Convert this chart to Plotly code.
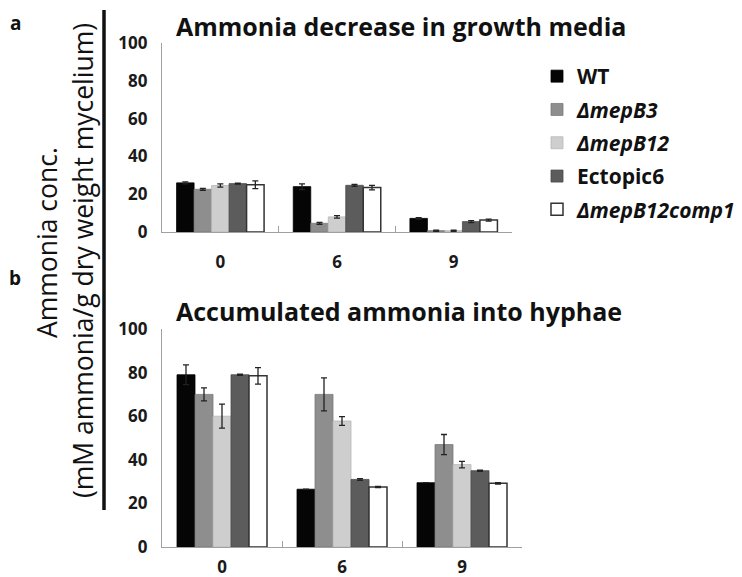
import plotly.graph_objects as go

W, H = 742, 577

days = ["0", "6", "9"]
series_names = ["WT", "<i>ΔmepB3</i>", "<i>ΔmepB12</i>", "Ectopic6", "<i>ΔmepB12comp1</i>"]

# Panel a: Ammonia decrease in growth media
a_WT = [26.0, 24.0, 7.2]
a_mepB3 = [22.6, 4.6, 0.7]
a_mepB12 = [24.6, 8.0, 0.7]
a_ect6 = [25.6, 24.7, 5.5]
a_comp1 = [25.0, 23.5, 6.3]
a_WT_err = [0.5, 1.5, 0.4]
a_mepB3_err = [0.5, 0.5, 0.3]
a_mepB12_err = [0.9, 0.7, 0.3]
a_ect6_err = [0.3, 0.5, 0.5]
a_comp1_err = [2.0, 1.2, 0.5]

# Panel b: Accumulated ammonia into hyphae
b_WT = [79.0, 26.5, 29.5]
b_mepB3 = [70.0, 70.0, 47.0]
b_mepB12 = [60.0, 57.8, 37.8]
b_ect6 = [79.0, 31.0, 35.0]
b_comp1 = [78.5, 27.5, 29.2]
b_WT_err = [4.5, 0.0, 0.0]
b_mepB3_err = [3.0, 7.6, 4.6]
b_mepB12_err = [5.5, 2.0, 1.5]
b_ect6_err = [0.3, 0.4, 0.3]
b_comp1_err = [3.8, 0.3, 0.3]

a_vals = [a_WT, a_mepB3, a_mepB12, a_ect6, a_comp1]
a_errs = [a_WT_err, a_mepB3_err, a_mepB12_err, a_ect6_err, a_comp1_err]
b_vals = [b_WT, b_mepB3, b_mepB12, b_ect6, b_comp1]
b_errs = [b_WT_err, b_mepB3_err, b_mepB12_err, b_ect6_err, b_comp1_err]

fills = ["#050505", "#8e8e8e", "#cecece", "#5c5c5c", "#ffffff"]
edges = ["#000000", "#7a7a7a", "#b8b8b8", "#4a4a4a", "#333333"]
edge_w = [0.8, 0.8, 0.8, 0.8, 1.5]

FONT = "Open Sans"
OFF = 8  # page body margin

fig = go.Figure()
for i, name in enumerate(series_names):
    for vals, errs, xa, ya, show in [(a_vals, a_errs, "x", "y", True), (b_vals, b_errs, "x2", "y2", False)]:
        fig.add_trace(go.Bar(
            x=days, y=vals[i], name=name, legendgroup=f"g{i}", showlegend=show,
            xaxis=xa, yaxis=ya,
            marker=dict(color=fills[i], line=dict(color=edges[i], width=edge_w[i])),
            error_y=dict(type="data", array=errs[i], visible=True, color="#222222",
                         thickness=1.3, width=3),
        ))

def px_x(p):
    return (p - OFF) / W

def px_y(p):
    return 1 - (p - OFF) / H

axis_common = dict(
    type="category", showline=True, linecolor="#a0a0a0", linewidth=1.2,
    ticks="inside", tickson="boundaries", ticklen=6, tickcolor="#a0a0a0",
    showgrid=False, zeroline=False,
    tickfont=dict(family=FONT, size=17, color="#1a1a1a", weight="bold"),
)
yaxis_common = dict(
    range=[0, 100], tickvals=[0, 20, 40, 60, 80, 100], showline=True,
    linecolor="#a0a0a0", linewidth=1.2, ticks="", showgrid=False, zeroline=False,
    tickfont=dict(family=FONT, size=17, color="#1a1a1a", weight="bold"),
    ticklabelstandoff=10,
)

fig.update_layout(
    width=W, height=H,
    margin=dict(l=0, r=0, t=0, b=0, autoexpand=False),
    paper_bgcolor="white", plot_bgcolor="white",
    barmode="group", bargap=0.25, bargroupgap=0,
    xaxis=dict(domain=[px_x(162), px_x(512)], anchor="y", ticklabelstandoff=14, **axis_common),
    yaxis=dict(domain=[px_y(232), px_y(43)], anchor="x", **yaxis_common),
    xaxis2=dict(domain=[px_x(162), px_x(522)], anchor="y2", ticklabelstandoff=4, **axis_common),
    yaxis2=dict(domain=[px_y(547), px_y(329)], anchor="x2", **yaxis_common),
    legend=dict(
        x=px_x(537), y=px_y(56), xanchor="left", yanchor="top",
        font=dict(family=FONT, size=21, color="#111111", weight="bold"),
        tracegroupgap=3, bgcolor="rgba(0,0,0,0)",
    ),
    showlegend=True,
)

annots = [
    dict(text="Ammonia decrease in growth media", x=px_x(174), y=px_y(26),
         xanchor="left", yanchor="middle", font=dict(family=FONT, size=25, weight="bold", color="#111")),
    dict(text="Accumulated ammonia into hyphae", x=px_x(174), y=px_y(311),
         xanchor="left", yanchor="middle", font=dict(family=FONT, size=25, weight="bold", color="#111")),
    dict(text="a", x=px_x(15), y=px_y(23), xanchor="center", yanchor="middle",
         font=dict(family=FONT, size=19, weight="bold", color="#111")),
    dict(text="b", x=px_x(15), y=px_y(278), xanchor="center", yanchor="middle",
         font=dict(family=FONT, size=19, weight="bold", color="#111")),
    dict(text="Ammonia conc.", x=px_x(47), y=px_y(243), textangle=-90,
         xanchor="center", yanchor="middle", font=dict(family=FONT, size=26.5, color="#111")),
    dict(text="(mM ammonia/g dry weight mycelium)", x=px_x(83), y=px_y(261), textangle=-90,
         xanchor="center", yanchor="middle", font=dict(family=FONT, size=26.5, color="#111")),
]
for a in annots:
    a.update(xref="paper", yref="paper", showarrow=False)
fig.update_layout(annotations=annots)

fig.add_shape(type="line", xref="paper", yref="paper",
              x0=px_x(104), x1=px_x(104), y0=px_y(10), y1=px_y(510),
              line=dict(color="#111111", width=3.5))

fig.write_html("out.html")
